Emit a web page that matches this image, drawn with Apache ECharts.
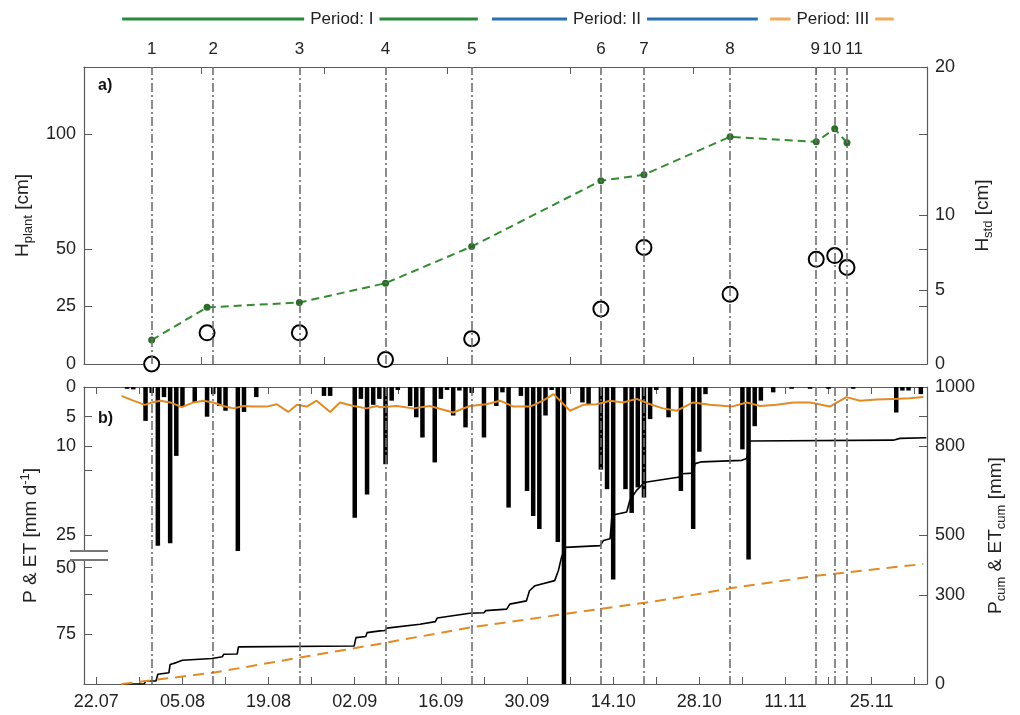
<!DOCTYPE html>
<html>
<head>
<meta charset="utf-8">
<title>Plant height, precipitation and evapotranspiration</title>
<script src="https://cdn.jsdelivr.net/npm/echarts@6/dist/echarts.min.js"></script>
<style>
  html, body { margin: 0; padding: 0; background: #fff; }
  #chart { width: 1020px; height: 715px; }
</style>
</head>
<body>
<div id="chart"></div>
<script>
// ---- data (x values are day of year) ----
const measureDoy    = [212, 222, 236, 250, 264, 285, 292, 306, 320, 323, 325];
const measureLabels = ['1', '2', '3', '4', '5', '6', '7', '8', '9', '10', '11'];

const plantDoy    = [212, 221, 236, 250, 264, 285, 292, 306, 320, 323, 325];
const plantHeight = [10.4, 24.6, 26.7, 35.1, 51.0, 79.6, 82.2, 98.7, 96.5, 102.2, 96.1]; // cm
const plantStd    = [0.0, 2.1, 2.1, 0.3, 1.7, 3.7, 7.85, 4.7, 7.05, 7.3, 6.5];           // cm

const periodNames   = ['Period: I', 'Period: II', 'Period: III'];
const periodStart   = [207.2, 267.3, 312.5];
const periodEnd     = [265.0, 310.5, 332.6];
const periodLabelAt = [242.9, 286.0, 322.7];
const periodColors  = ['#2a8a3c', '#2a6fb0', '#f0aa5c'];

// daily precipitation, mm d-1
const precipDoy = [208, 209, 211, 212, 213, 214, 215, 216, 217, 219, 221, 222, 223, 224, 226, 227, 229,
  240, 241, 245, 246, 247, 248, 249, 250, 251, 252, 254, 255, 256, 258, 259, 260, 261, 262, 263, 264,
  266, 268, 269, 270, 272, 273, 274, 275, 276, 277, 278, 279, 282, 283, 285, 286, 287, 289, 290, 291,
  292, 293, 294, 296, 298, 300, 301, 302, 308, 309, 310, 311, 313, 316, 319, 322, 326, 333, 334, 335, 337];
const precipMm = [0.3, 0.4, 5.7, 1.0, 33, 1.7, 31, 11.6, 3.2, 2.6, 5.0, 1.2, 3.2, 4.0, 37, 4.2, 1.7,
  1.5, 1.5, 22, 2.0, 18.1, 3.0, 2.0, 13, 2.3, 0.5, 3.2, 5.1, 8.5, 12.7, 2.0, 0.5, 4.8, 0.6, 6.8, 1.0,
  8.5, 3.2, 0.9, 20.3, 1.5, 17.5, 21.7, 23.9, 4.8, 0.5, 30, 110, 2.6, 2.9, 13.9, 17.2, 54.5, 17.2, 21.2, 16.9,
  18.6, 5.4, 0.5, 5.1, 17.5, 23.9, 10.9, 1.2, 10.5, 43.7, 6.6, 2.3, 0.9, 0.3, 0.3, 0.3, 0.3, 4.3, 0.6, 0.6, 1.2];

// daily evapotranspiration, mm d-1
const etDoy = [207.1, 209.0, 210.9, 212.0, 213.4, 215.0, 216.9, 218.8, 220.4, 222.0, 223.6, 225.3, 226.9,
  228.5, 230.7, 232.3, 234.2, 235.6, 237.2, 238.8, 241.0, 242.6, 244.8, 246.9, 248.6, 249.1, 251.8, 254.5,
  257.2, 261.0, 263.7, 266.4, 268.6, 270.8, 273.5, 275.6, 277.3, 280.0, 282.1, 284.3, 286.5, 288.6, 290.8,
  293.0, 295.1, 297.3, 300.0, 302.7, 306.3, 308.7, 310.9, 313.6, 316.3, 319.0, 322.2, 324.9, 327.1, 329.8,
  332.5, 335.2, 337.4];
const etMm = [1.5, 2.3, 3.0, 2.6, 2.3, 2.6, 3.4, 2.6, 2.3, 2.6, 3.2, 3.6, 3.2,
  3.3, 3.3, 2.9, 4.2, 3.0, 3.3, 2.3, 4.2, 2.6, 3.2, 3.6, 3.2, 3.4, 3.2, 3.6,
  3.2, 4.3, 3.2, 2.9, 2.3, 3.3, 3.3, 2.3, 1.2, 4.0, 3.0, 2.9, 2.3, 2.6, 2.0,
  2.9, 3.6, 4.0, 2.6, 3.0, 3.3, 2.6, 3.2, 3.0, 2.6, 2.6, 3.3, 1.7, 2.3, 2.1,
  2.0, 1.9, 1.7];

// cumulative precipitation, mm
const pCumDoy = [207.3, 210.8, 211.0, 212.7, 213.0, 214.8, 215.0, 216.0, 216.2, 217.0, 221.8, 222.0, 223.5,
  223.7, 225.9, 226.1, 244.9, 245.2, 246.8, 247.0, 249.1, 249.9, 250.2, 255.6, 258.1, 258.4, 263.7, 266.0,
  266.3, 269.7, 270.2, 272.9, 273.4, 274.3, 277.5, 278.1, 278.6, 279.2, 284.9, 285.4, 286.5, 286.8, 289.2,
  289.7, 290.8, 291.9, 292.5, 296.2, 298.1, 298.2, 300.0, 300.3, 301.4, 307.9, 308.7, 309.2, 332.5, 333.6, 337.9];
const pCumMm = [0, 0, 10, 10, 33, 38, 66, 72, 78, 80, 86, 89, 92,
  100, 101, 125, 128, 156, 160, 173, 179, 180, 188, 201, 210, 222, 238, 240,
  247, 252, 269, 280, 314, 331, 348, 382, 427, 460, 466, 483, 489, 568, 579,
  618, 652, 675, 680, 692, 698, 708, 710, 742, 748, 753, 759, 818, 821, 827, 829];

// cumulative evapotranspiration, mm
const etCumDoy = [207.1, 222.0, 236.1, 248.7, 263.7, 278.9, 296.2, 306.3, 320.3, 325.1, 337.4];
const etCumMm  = [0, 38, 89, 134, 190, 235, 286, 323, 365, 376, 404];

// axis ticks and labels
const dateLabelDoy   = [203, 217, 231, 245, 259, 273, 287, 301, 315, 329];
const plantAxisTicks = [220, 240, 260, 280, 300, 320];
const hPlantLabels   = [0, 25, 50, 100];
const hStdLabels     = [0, 5, 10, 20];
const pAxisLabels    = [0, 5, 10, 25, 50, 75];
const pAxisExtraTicks = [14, 60];
const cumAxisLabels  = [0, 300, 500, 800, 1000];
const cumAxisExtraTicks = [900];
const pAxisBreak     = [37, 44];

// ---- helpers ----
const FONT = 'Liberation Sans';
const X_MIN = 201, X_MAX = 338;
const H_PLANT_MAX = 129, H_STD_MAX = 20;

// P & ET axis: full size up to 25 mm, squeezed through the break, reduced size above 50 mm
function depth(v) {
  if (v <= 25) return v;
  if (v <= 50) return 25 + (v - 25) * 0.216;
  return 30.4 + (v - 50) * 0.446;
}

function doyLabel(doy) {
  const d = new Date(Date.UTC(2019, 0, 1) + (doy - 1) * 86400000);
  return String(d.getUTCDate()).padStart(2, '0') + '.' + String(d.getUTCMonth() + 1).padStart(2, '0');
}

const weekTicks = [];
for (let d = dateLabelDoy[0]; d <= X_MAX; d += 7) weekTicks.push(d);

const pLabelU = pAxisLabels.map(depth);
const pTickU = pAxisLabels.concat(pAxisExtraTicks).map(depth);
const stdTicks = hStdLabels.concat(hPlantLabels.slice(1).map(v => v * H_STD_MAX / H_PLANT_MAX));

const AXIS_COLOR = '#5a5a5a';
const TEXT_COLOR = '#222';

function xAxisBase(gridIndex, position, ticks, labels) {
  return {
    type: 'value', gridIndex, position, min: X_MIN, max: X_MAX,
    axisLine: { show: true, onZero: false, lineStyle: { color: AXIS_COLOR, width: 1.2 } },
    axisTick: { show: true, inside: true, length: 7, customValues: ticks, lineStyle: { color: AXIS_COLOR } },
    axisLabel: labels ? {
      show: true, customValues: labels, formatter: v => doyLabel(v),
      fontFamily: FONT, fontSize: 18, color: TEXT_COLOR, margin: 9
    } : { show: false },
    splitLine: { show: false }
  };
}

function yAxisBase(gridIndex, position, min, max, labels, ticks, extra) {
  return Object.assign({
    type: 'value', gridIndex, position, min, max,
    axisLine: { show: true, onZero: false, lineStyle: { color: AXIS_COLOR, width: 1.2 } },
    axisTick: { show: true, inside: true, length: 8, customValues: ticks, lineStyle: { color: AXIS_COLOR } },
    axisLabel: {
      show: true, customValues: labels, formatter: v => String(v),
      fontFamily: FONT, fontSize: 18, color: TEXT_COLOR, margin: 8
    },
    splitLine: { show: false },
    nameLocation: 'middle', nameRotate: 90,
    nameTextStyle: {
      fontFamily: FONT, fontSize: 19, color: TEXT_COLOR,
      rich: {
        sub: { fontFamily: FONT, fontSize: 13, color: TEXT_COLOR, padding: [11, 0, 0, 0] },
        sup: { fontFamily: FONT, fontSize: 13, color: TEXT_COLOR, padding: [0, 0, 11, 0] }
      }
    }
  }, extra || {});
}

const dashDot = [9, 3, 2, 3];
const LINE_GRAY = '#6e6e6e';

// label nudges so the crowded numbers 9, 10, 11 stay readable
const measureLabelShift = [0, 0, 0, 0, 0, 0, 0, 0, -1, -3, 7];

const chart = echarts.init(document.getElementById('chart'), null, { renderer: 'canvas' });

const option = {
  animation: false,
  backgroundColor: '#fff',
  textStyle: { fontFamily: FONT },
  title: [
    { text: 'a)', left: 93, top: 73, textStyle: { fontFamily: FONT, fontSize: 16, fontWeight: 'bold', color: '#111' } },
    { text: 'b)', left: 93, top: 406, textStyle: { fontFamily: FONT, fontSize: 16, fontWeight: 'bold', color: '#111' } }
  ],
  grid: [
    { left: 84, right: 93, top: 67, height: 297 },
    { left: 84, right: 93, top: 387, height: 297 },
    { left: 84, right: 93, top: 8, height: 22 }
  ],
  xAxis: [
    xAxisBase(0, 'bottom', plantAxisTicks, null),
    xAxisBase(0, 'top', plantAxisTicks, null),
    xAxisBase(1, 'bottom', weekTicks, dateLabelDoy),
    xAxisBase(1, 'top', weekTicks, null),
    { type: 'value', gridIndex: 2, min: X_MIN, max: X_MAX, show: false }
  ],
  yAxis: [
    yAxisBase(0, 'left', 0, H_PLANT_MAX, hPlantLabels, hPlantLabels,
      { name: 'H{sub|plant} [cm]', nameGap: 46 }),
    yAxisBase(0, 'right', 0, H_STD_MAX, hStdLabels, stdTicks,
      { name: 'H{sub|std} [cm]', nameGap: 44 }),
    yAxisBase(1, 'left', 0, 50, pLabelU, pTickU, {
      inverse: true,
      name: 'P & ET [mm d{sup|-1}]', nameGap: 41,
      axisLabel: {
        show: true, customValues: pLabelU, fontFamily: FONT, fontSize: 18, color: TEXT_COLOR, margin: 8,
        formatter: u => {
          const i = pLabelU.findIndex(x => Math.abs(x - u) < 1e-6);
          return i < 0 ? '' : String(pAxisLabels[i]);
        }
      }
    }),
    yAxisBase(1, 'right', 0, 1000, cumAxisLabels, cumAxisLabels.concat(cumAxisExtraTicks),
      { name: 'P{sub|cum} & ET{sub|cum} [mm]', nameGap: 52 }),
    { type: 'value', gridIndex: 2, min: 0, max: 1, show: false }
  ],
  series: [
    // panel b: daily precipitation hanging from the top
    {
      name: 'P', type: 'bar', xAxisIndex: 2, yAxisIndex: 2, barWidth: 4.5, clip: true, z: 2,
      itemStyle: { color: '#000' },
      data: precipDoy.map((d, i) => [d, depth(precipMm[i])])
    },
    {
      name: 'ET', type: 'line', xAxisIndex: 2, yAxisIndex: 2, symbol: 'none', z: 4,
      lineStyle: { color: '#e08b26', width: 2 },
      data: etDoy.map((d, i) => [d, depth(etMm[i])])
    },
    {
      name: 'P_cum', type: 'line', xAxisIndex: 2, yAxisIndex: 3, symbol: 'none', z: 4,
      lineStyle: { color: '#000', width: 1.6 },
      data: pCumDoy.map((d, i) => [d, pCumMm[i]])
    },
    {
      name: 'ET_cum', type: 'line', xAxisIndex: 2, yAxisIndex: 3, symbol: 'none', z: 4,
      lineStyle: { color: '#e08b26', width: 2, type: [11, 7] },
      data: etCumDoy.map((d, i) => [d, etCumMm[i]])
    },
    // measurement dates, panel b
    {
      name: 'dates b', type: 'line', xAxisIndex: 2, yAxisIndex: 2, data: [], z: 3,
      markLine: {
        silent: true, symbol: 'none', animation: false,
        lineStyle: { color: LINE_GRAY, width: 1.6, type: dashDot },
        label: { show: false },
        data: measureDoy.map(d => ({ xAxis: d }))
      }
    },
    // measurement dates, panel a, numbered above the frame
    {
      name: 'dates a', type: 'line', xAxisIndex: 0, yAxisIndex: 0, data: [], z: 1,
      markLine: {
        silent: true, symbol: 'none', animation: false,
        lineStyle: { color: LINE_GRAY, width: 1.6, type: dashDot },
        label: {
          show: true, position: 'end', distance: 9, formatter: p => p.name,
          fontFamily: FONT, fontSize: 17, color: TEXT_COLOR
        },
        data: measureDoy.map((d, i) => ({
          xAxis: d, name: measureLabels[i],
          label: { offset: [measureLabelShift[i], 0] }
        }))
      }
    },
    // panel a: plant height and its standard deviation
    {
      name: 'H_plant', type: 'line', xAxisIndex: 0, yAxisIndex: 0, z: 4,
      symbol: 'circle', symbolSize: 7, showSymbol: true,
      lineStyle: { color: '#358a32', width: 2, type: [8, 5] },
      itemStyle: { color: '#2b6e2a' },
      data: plantDoy.map((d, i) => [d, plantHeight[i]])
    },
    {
      name: 'H_std', type: 'scatter', xAxisIndex: 0, yAxisIndex: 1, z: 4, clip: false,
      symbol: 'emptyCircle', symbolSize: 15,
      itemStyle: { color: '#000', borderWidth: 1.8, opacity: 1 },
      data: plantDoy.map((d, i) => [d, plantStd[i]])
    }
  ].concat(
    // period header
    periodNames.map((nm, i) => ({
      name: nm, type: 'line', xAxisIndex: 4, yAxisIndex: 4, symbol: 'none', z: 2,
      lineStyle: { color: periodColors[i], width: 3 },
      data: [[periodStart[i], 0.5], [periodEnd[i], 0.5]]
    })),
    [{
      name: 'period labels', type: 'scatter', xAxisIndex: 4, yAxisIndex: 4, symbolSize: 0, z: 5,
      itemStyle: { opacity: 1 },
      label: {
        show: true, position: 'inside', formatter: p => p.value[2],
        fontFamily: FONT, fontSize: 17, color: TEXT_COLOR,
        backgroundColor: '#fff', padding: [2, 6, 2, 6]
      },
      data: periodNames.map((nm, i) => [periodLabelAt[i], 0.5, nm])
    }]
  )
};

chart.setOption(option);

// break marker on the P & ET axis
const axisX = chart.convertToPixel({ xAxisIndex: 2 }, X_MIN);
const yb1 = chart.convertToPixel({ yAxisIndex: 2 }, depth(pAxisBreak[0]));
const yb2 = chart.convertToPixel({ yAxisIndex: 2 }, depth(pAxisBreak[1]));
chart.setOption({
  graphic: [
    { type: 'rect', shape: { x: axisX - 3, y: yb1, width: 6, height: yb2 - yb1 }, style: { fill: '#fff' }, z: 100 },
    { type: 'line', shape: { x1: axisX - 14, y1: yb1, x2: axisX + 24, y2: yb1 }, style: { stroke: '#777', lineWidth: 2 }, z: 101 },
    { type: 'line', shape: { x1: axisX - 14, y1: yb2, x2: axisX + 24, y2: yb2 }, style: { stroke: '#777', lineWidth: 2 }, z: 101 }
  ]
});
</script>
</body>
</html>
